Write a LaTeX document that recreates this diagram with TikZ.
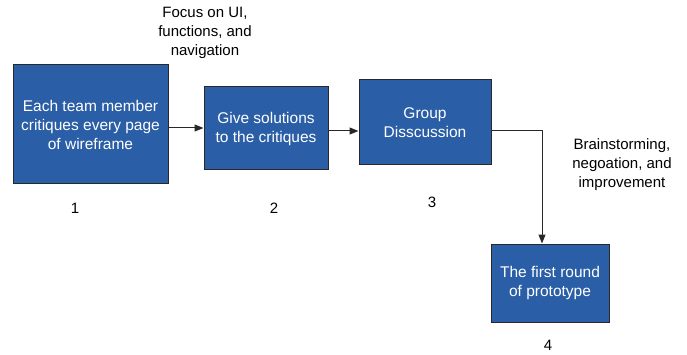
\documentclass[tikz,border=0pt]{standalone}
\usepackage{fontspec}
\setmainfont{Liberation Sans}
\usetikzlibrary{arrows.meta}
\definecolor{boxblue}{RGB}{42,94,166}
\definecolor{edge}{RGB}{40,40,40}
\begin{document}
\begin{tikzpicture}[x=1pt,y=-1pt,
  stepbox/.style={draw=edge,line width=1pt,fill=boxblue,text=white,align=center,
    inner sep=0pt,font=\fontsize{15.5}{19}\selectfont},
  note/.style={align=center,inner sep=0pt,font=\fontsize{15}{19}\selectfont},
  flow/.style={draw=edge,line width=1pt,-{Triangle[length=9pt,width=7pt]}}]
\useasboundingbox (0,0) rectangle (687,355);
% process steps
\node[stepbox,minimum width=155pt,minimum height=119pt] (s1) at (90.5,124.5)
  {Each team member\\critiques every page\\of wireframe};
\node[stepbox,minimum width=124pt,minimum height=83pt] (s2) at (266,128.5)
  {Give solutions\\to the critiques};
\node[stepbox,minimum width=132pt,minimum height=85pt] (s3) at (425,122.5)
  {Group\\Disscussion};
\node[stepbox,minimum width=118pt,minimum height=78pt] (s4) at (550,283)
  {The first round\\of prototype};
% step numbers
\node[note] (n1) at (75,208) {1};
\node[note] (n2) at (274,208) {2};
\node[note] (n3) at (432,202) {3};
\node[note] (n4) at (548,345) {4};
% annotations
\node[note] (a1) at (205,33) {Focus on UI,\\functions, and\\navigation};
\node[note] (a2) at (622,165) {Brainstorming,\\negoation, and\\improvement};
% connectors
\draw[flow] (s1.east |- 0,128) -- (s2.west |- 0,128);
\draw[flow] (s2.east |- 0,131) -- (s3.west |- 0,131);
\coordinate (bend) at (542,131);
\draw[flow] (s3.east |- bend) -- (bend) -- (bend |- s4.north);
\end{tikzpicture}
\end{document}
